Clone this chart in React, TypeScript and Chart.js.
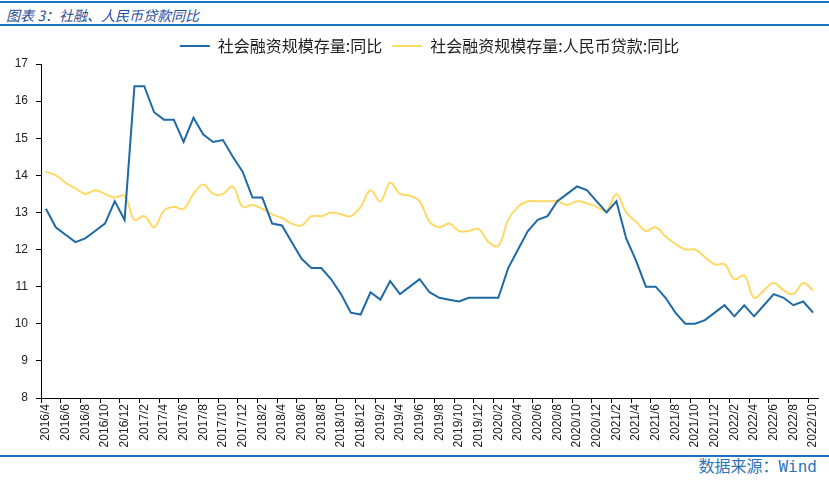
import React, { useEffect, useRef } from 'react';
import { Chart, registerables } from 'chart.js';

Chart.register(...registerables);

const categories: string[] = [
  '2016/4', '2016/5', '2016/6', '2016/7', '2016/8', '2016/9', '2016/10', '2016/11', '2016/12',
  '2017/1', '2017/2', '2017/3', '2017/4', '2017/5', '2017/6', '2017/7', '2017/8', '2017/9', '2017/10', '2017/11', '2017/12',
  '2018/1', '2018/2', '2018/3', '2018/4', '2018/5', '2018/6', '2018/7', '2018/8', '2018/9', '2018/10', '2018/11', '2018/12',
  '2019/1', '2019/2', '2019/3', '2019/4', '2019/5', '2019/6', '2019/7', '2019/8', '2019/9', '2019/10', '2019/11', '2019/12',
  '2020/1', '2020/2', '2020/3', '2020/4', '2020/5', '2020/6', '2020/7', '2020/8', '2020/9', '2020/10', '2020/11', '2020/12',
  '2021/1', '2021/2', '2021/3', '2021/4', '2021/5', '2021/6', '2021/7', '2021/8', '2021/9', '2021/10', '2021/11', '2021/12',
  '2022/1', '2022/2', '2022/3', '2022/4', '2022/5', '2022/6', '2022/7', '2022/8', '2022/9', '2022/10',
];

// 社会融资规模存量:同比
const tsfStockGrowth: number[] = [
  13.1, 12.6, 12.4, 12.2, 12.3, 12.5, 12.7, 13.3, 12.8,
  16.4, 16.4, 15.7, 15.5, 15.5, 14.9, 15.55, 15.1, 14.9, 14.95, 14.5, 14.1,
  13.4, 13.4, 12.7, 12.65, 12.2, 11.75, 11.5, 11.5, 11.2, 10.8, 10.3, 10.25,
  10.85, 10.65, 11.15, 10.8, 11.0, 11.2, 10.85, 10.7, 10.65, 10.6, 10.7, 10.7,
  10.7, 10.7, 11.5, 12.0, 12.5, 12.8, 12.9, 13.3, 13.5, 13.7, 13.6, 13.3,
  13.0, 13.3, 12.3, 11.7, 11.0, 11.0, 10.7, 10.3, 10.0, 10.0, 10.1, 10.3,
  10.5, 10.2, 10.5, 10.2, 10.5, 10.8, 10.7, 10.5, 10.6, 10.3,
];

// 社会融资规模存量:人民币贷款:同比
const tsfLoanGrowth: number[] = [
  14.1, 14.0, 13.8, 13.65, 13.5, 13.6, 13.5, 13.4, 13.45,
  12.8, 12.9, 12.6, 13.05, 13.15, 13.1, 13.5, 13.75, 13.5, 13.5, 13.7, 13.15,
  13.2, 13.1, 12.95, 12.85, 12.7, 12.65, 12.9, 12.9, 13.0, 12.95, 12.9, 13.15,
  13.6, 13.3, 13.8, 13.5, 13.45, 13.3, 12.75, 12.6, 12.7, 12.5, 12.5, 12.55,
  12.2, 12.1, 12.8, 13.15, 13.3, 13.3, 13.3, 13.3, 13.2, 13.3, 13.25, 13.15,
  13.05, 13.5, 13.0, 12.75, 12.5, 12.6, 12.35, 12.15, 12.0, 12.0, 11.8, 11.6,
  11.6, 11.2, 11.3, 10.7, 10.9, 11.1, 10.9, 10.8, 11.1, 10.9,
];

const seriesNames: string[] = ['社会融资规模存量:同比', '社会融资规模存量:人民币贷款:同比'];
const yMin = 8;
const yMax = 17;
const yStep = 1;

const BLUE = '#1f6aa5';
const YELLOW = '#ffd966';
const RULE = '#1a73c2';

export default function App() {
  const ref = useRef<HTMLCanvasElement>(null);

  useEffect(() => {
    if (!ref.current) return;
    const chart = new Chart(ref.current, {
      type: 'line',
      data: {
        labels: categories,
        datasets: [
          {
            label: seriesNames[0],
            data: tsfStockGrowth,
            borderColor: BLUE,
            backgroundColor: BLUE,
            borderWidth: 2,
            pointRadius: 0,
            tension: 0,
          },
          {
            label: seriesNames[1],
            data: tsfLoanGrowth,
            borderColor: YELLOW,
            backgroundColor: YELLOW,
            borderWidth: 2,
            pointRadius: 0,
            tension: 0.4,
          },
        ],
      },
      options: {
        animation: false,
        responsive: false,
        devicePixelRatio: 1,
        layout: { padding: { left: 0, right: 11, top: 0, bottom: 0 } },
        plugins: {
          legend: {
            position: 'top',
            fullSize: false,
            labels: {
              usePointStyle: true,
              pointStyle: 'line',
              pointStyleWidth: 30,
              padding: 10,
              color: '#222',
              font: { family: "'Noto Sans CJK SC', sans-serif", size: 16 },
            },
          },
          tooltip: { enabled: false },
        },
        scales: {
          x: {
            type: 'category',
            offset: true,
            grid: {
              offset: true,
              drawOnChartArea: false,
              drawTicks: true,
              tickLength: 5,
              tickColor: (c: any) => (c.index % 2 === 0 ? '#000' : 'rgba(0,0,0,0)'),
            },
            border: { color: '#000', width: 1 },
            ticks: {
              autoSkip: false,
              maxRotation: 90,
              minRotation: 90,
              padding: 1,
              color: '#222',
              font: { family: "'Liberation Sans', Arial, sans-serif", size: 12 },
              callback: (_v: any, i: number) => (i % 2 === 0 ? categories[i] : ''),
            },
            afterFit: (s: any) => {
              s.height = 50;
            },
          },
          y: {
            min: yMin,
            max: yMax,
            grid: {
              drawOnChartArea: false,
              drawTicks: true,
              tickLength: 5,
              tickColor: '#000',
            },
            border: { color: '#000', width: 1 },
            ticks: {
              stepSize: yStep,
              padding: 8,
              color: '#222',
              font: { family: "'Liberation Sans', Arial, sans-serif", size: 12 },
            },
            afterFit: (s: any) => {
              s.width = 41;
            },
          },
        },
      },
    } as any);
    return () => chart.destroy();
  }, []);

  return (
    <div
      style={{
        position: 'fixed',
        left: 0,
        top: 0,
        width: 829,
        height: 482,
        background: '#fff',
        overflow: 'hidden',
      }}
    >
      <div style={{ position: 'absolute', left: 0, top: 1, width: 829, height: 2, background: RULE }} />
      <div
        style={{
          position: 'absolute',
          left: 6,
          top: 6,
          lineHeight: '18px',
          fontSize: 14,
          fontStyle: 'italic',
          color: '#1f4e9c',
          fontFamily: "'Noto Sans CJK SC', sans-serif",
          whiteSpace: 'nowrap',
        }}
      >
        图表 3：社融、人民币贷款同比
      </div>
      <div style={{ position: 'absolute', left: 0, top: 24, width: 829, height: 2, background: RULE }} />
      <canvas
        ref={ref}
        width={829}
        height={420}
        style={{ position: 'absolute', left: 0, top: 28, width: 829, height: 420 }}
      />
      <div style={{ position: 'absolute', left: 0, top: 455, width: 829, height: 2, background: RULE }} />
      <div
        style={{
          position: 'absolute',
          right: 12,
          top: 457,
          lineHeight: '20px',
          fontSize: 16,
          color: '#2e75b6',
          fontFamily: "'DejaVu Sans Mono', 'Noto Sans CJK SC', monospace",
          whiteSpace: 'nowrap',
        }}
      >
        数据来源：Wind
      </div>
    </div>
  );
}
